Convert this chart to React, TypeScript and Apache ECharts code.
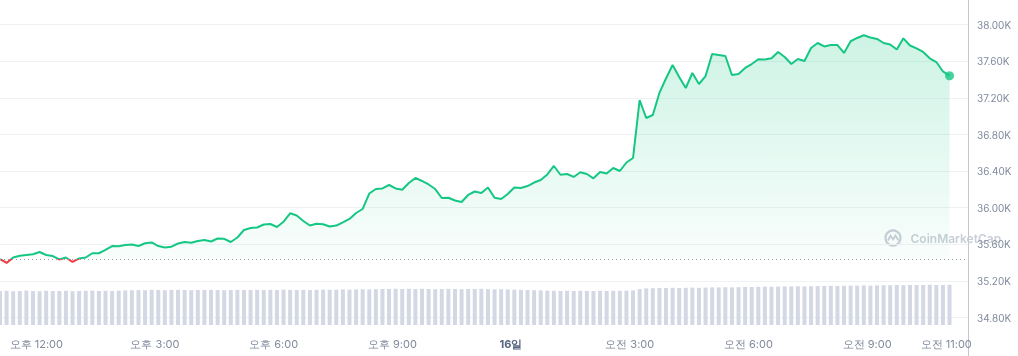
import React, { useEffect, useRef } from "react";
import * as echarts from "echarts";

// time in minutes relative to 12:00 (PM) of the first day
const START_MIN = -55;
const STEP_MIN = 10;
const X_MIN = -55;
const X_MAX = 1413;

const prices = [
  35439, 35396, 35456, 35475, 35483, 35491, 35516, 35483, 35472, 35434,
  35456, 35407, 35445, 35456, 35502, 35502, 35538, 35581, 35578, 35592,
  35598, 35581, 35611, 35620, 35581, 35565, 35574, 35609, 35625, 35616,
  35636, 35647, 35631, 35663, 35660, 35625, 35674, 35756, 35778, 35784,
  35816, 35822, 35789, 35847, 35939, 35915, 35855, 35805, 35824, 35819,
  35795, 35805, 35840, 35877, 35942, 35986, 36155, 36204, 36210, 36248,
  36210, 36196, 36270, 36325, 36292, 36254, 36204, 36106, 36109, 36079,
  36062, 36139, 36177, 36161, 36221, 36108, 36095, 36150, 36221, 36215,
  36237, 36275, 36303, 36363, 36456, 36360, 36368, 36336, 36387, 36368,
  36321, 36390, 36374, 36434, 36401, 36494, 36543, 37177, 36980, 37013,
  37254, 37412, 37560, 37428, 37308, 37472, 37352, 37439, 37680, 37669,
  37658, 37450, 37461, 37527, 37570, 37622, 37620, 37633, 37702, 37647,
  37570, 37625, 37603, 37745, 37800, 37762, 37778, 37778, 37691, 37819,
  37855, 37885, 37860, 37844, 37800, 37784, 37729, 37851, 37773, 37742,
  37702, 37633, 37592, 37489, 37442,
];

// 24h volume (billions)
const volumes = [
  17.0, 17.1, 16.9, 17.0, 17.2, 17.0, 16.9, 17.1, 17.0, 17.0,
  17.1, 16.9, 17.0, 17.1, 17.2, 17.0, 17.1, 17.0, 17.2, 17.3,
  17.4, 17.5, 17.4, 17.6, 17.5, 17.4, 17.5, 17.6, 17.5, 17.4,
  17.5, 17.5, 17.6, 17.5, 17.4, 17.5, 17.6, 17.5, 17.5, 17.6,
  17.5, 17.6, 17.5, 17.7, 17.6, 17.5, 17.6, 17.5, 17.6, 17.7,
  17.6, 17.7, 17.8, 17.7, 17.8, 17.9, 17.8, 17.9, 18.0, 18.0,
  18.1, 18.0, 18.1, 18.0, 18.1, 18.0, 17.9, 18.0, 18.1, 18.0,
  17.9, 18.0, 18.0, 18.1, 17.9, 17.8, 17.9, 17.8, 17.7, 17.6,
  17.5, 17.4, 17.3, 17.2, 17.1, 17.0, 17.1, 17.0, 17.1, 17.0,
  17.0, 17.1, 17.0, 17.1, 17.1, 17.2, 17.3, 18.0, 18.3, 18.4,
  18.5, 18.5, 18.6, 18.5, 18.6, 18.7, 18.6, 18.7, 18.8, 18.8,
  18.9, 18.8, 18.9, 19.0, 19.0, 19.1, 19.2, 19.1, 19.2, 19.3,
  19.3, 19.4, 19.3, 19.4, 19.5, 19.5, 19.6, 19.5, 19.6, 19.7,
  19.7, 19.8, 19.7, 19.8, 19.9, 19.9, 20.0, 19.9, 20.0, 20.0,
  20.0, 20.1, 20.0, 20.0, 20.1,
];

const xTickMinutes = [0, 180, 360, 540, 720, 900, 1080, 1260, 1380];
const xTickLabels = [
  "오후 12:00",
  "오후 3:00",
  "오후 6:00",
  "오후 9:00",
  "16일",
  "오전 3:00",
  "오전 6:00",
  "오전 9:00",
  "오전 11:00",
];
const boldTick = "16일";

const GREEN = "#16c784";
const RED = "#ea3943";
const WM = "#c9ced7";

export default function App() {
  const ref = useRef<HTMLDivElement>(null);
  useEffect(() => {
    const chart = echarts.init(ref.current!, null, { renderer: "svg" });
    const times = prices.map((_, i) => START_MIN + i * STEP_MIN);
    const base = prices[0];
    const last = prices[prices.length - 1];
    const lastT = times[times.length - 1];

    const option: any = {
      animation: false,
      textStyle: { fontFamily: "Inter, sans-serif" },
      grid: [
        { left: 0, right: 50, top: 24.7, height: 292.8 },
        { left: 0, right: 50, top: 280, height: 45 },
        { left: 0, right: 50, top: 0, height: 356 },
      ],
      xAxis: [
        { type: "value", gridIndex: 0, min: X_MIN, max: X_MAX, show: false },
        {
          type: "value",
          gridIndex: 1,
          min: X_MIN,
          max: X_MAX,
          axisLine: { show: false },
          axisTick: { show: false },
          splitLine: { show: false },
          axisLabel: {
            customValues: xTickMinutes,
            color: "#808a9d",
            fontSize: 11,
            margin: 13,
            formatter: (v: number) => {
              const i = xTickMinutes.indexOf(Math.round(v));
              if (i < 0) return "";
              const t = xTickLabels[i];
              return t === boldTick ? `{b|${t}}` : t;
            },
            rich: { b: { fontWeight: "bold", color: "#58667e", fontSize: 11 } },
          },
        },
        { type: "value", gridIndex: 2, min: X_MIN, max: X_MAX, show: false },
      ],
      yAxis: [
        {
          type: "value",
          gridIndex: 0,
          position: "right",
          min: 34800,
          max: 38000,
          interval: 400,
          axisLine: { show: false },
          axisTick: { show: false },
          splitLine: { lineStyle: { color: "#eff2f5" } },
          axisLabel: {
            color: "#808a9d",
            fontSize: 10,
            margin: 9,
            formatter: (v: number) => (v / 1000).toFixed(2) + "K",
          },
        },
        { type: "value", gridIndex: 1, min: 0, max: 22.5, show: false },
        {
          type: "value",
          gridIndex: 2,
          position: "right",
          min: 0,
          max: 1,
          axisLine: { show: true, onZero: false, lineStyle: { color: "#c3c7cf" } },
          axisTick: { show: false },
          axisLabel: { show: false },
          splitLine: { show: false },
        },
      ],
      visualMap: {
        show: false,
        type: "piecewise",
        seriesIndex: 0,
        dimension: 1,
        pieces: [
          { lt: base, color: RED },
          { gte: base, lt: 100000, color: GREEN },
        ],
      },
      series: [
        {
          type: "line",
          xAxisIndex: 0,
          yAxisIndex: 0,
          data: times.map((t, i) => [t, prices[i]]),
          showSymbol: false,
          lineStyle: { width: 2 },
          z: 3,
          areaStyle: {
            origin: base,
            color: new echarts.graphic.LinearGradient(0, 0, 0, 1, [
              { offset: 0, color: "rgba(22,199,132,0.30)" },
              { offset: 1, color: "rgba(22,199,132,0.03)" },
            ]),
          },
          markLine: {
            silent: true,
            symbol: ["none", "none"],
            data: [
              {
                yAxis: base,
                lineStyle: { type: [1, 3], color: "#9aa1b3", width: 1 },
                label: { show: false },
              },
              {
                yAxis: last,
                lineStyle: { opacity: 0 },
                label: {
                  show: true,
                  position: "end",
                  distance: 1,
                  formatter: () => (last / 1000).toFixed(2) + "K",
                  backgroundColor: GREEN,
                  color: "#ffffff",
                  fontWeight: "bold",
                  fontSize: 11,
                  padding: [4, 5, 3, 4],
                },
              },
            ],
          },
        },
        {
          type: "scatter",
          xAxisIndex: 0,
          yAxisIndex: 0,
          data: [[lastT, last]],
          symbolSize: 9,
          itemStyle: { color: GREEN },
          z: 4,
        },
        {
          type: "bar",
          xAxisIndex: 1,
          yAxisIndex: 1,
          data: times.map((t, i) => [t, volumes[i]]),
          barWidth: 4,
          itemStyle: { color: "#d3d8e4" },
          z: 1,
        },
      ],
      graphic: [
        {
          type: "group",
          left: 883,
          top: 228,
          z: 0,
          children: [
            {
              type: "circle",
              shape: { cx: 8.5, cy: 8.5, r: 7.5 },
              style: { fill: "none", stroke: WM, lineWidth: 2.2 },
            },
            {
              type: "polyline",
              shape: { points: [[3.5, 11], [6, 6], [8.5, 10], [11, 6], [14, 11]] },
              style: { fill: "none", stroke: WM, lineWidth: 1.8 },
            },
            {
              type: "text",
              x: 26,
              y: 9,
              style: {
                text: "CoinMarketCap",
                fill: WM,
                fontSize: 12,
                fontWeight: 600,
                fontFamily: "Inter, sans-serif",
                verticalAlign: "middle",
              },
            },
          ],
        },
      ],
    };
    chart.setOption(option);
    return () => chart.dispose();
  }, []);
  return (
    <div
      ref={ref}
      style={{ position: "fixed", left: 0, top: 0, width: 1018, height: 356 }}
    />
  );
}
